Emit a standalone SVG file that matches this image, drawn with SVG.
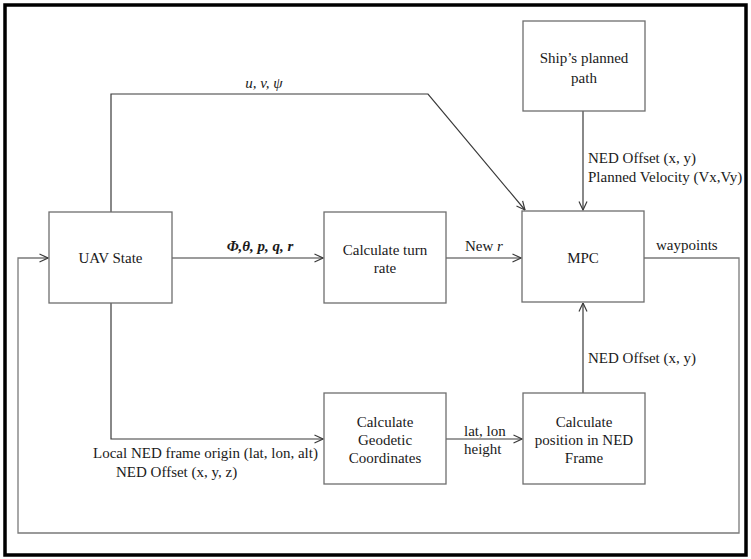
<svg xmlns="http://www.w3.org/2000/svg" width="751" height="559" viewBox="0 0 751 559">
<defs>
<style>
.box{fill:#fff;stroke:#6e6e6e;stroke-width:1.3}
.t{font-family:"Liberation Serif","Times New Roman",serif;font-size:15px;fill:#1a1a1a}
.c{text-anchor:middle}
.i{font-style:italic}
.b{font-weight:bold}
.ln{fill:none;stroke:#3a3a3a;stroke-width:1.2}
.fb{fill:none;stroke:#7a7a7a;stroke-width:1.3}
</style>
<marker id="ah" viewBox="0 0 10 10" refX="9.5" refY="5" markerWidth="10" markerHeight="10" markerUnits="userSpaceOnUse" orient="auto">
<path d="M1,1 L9.5,5 L1,9" fill="none" stroke="#3a3a3a" stroke-width="1.2"/>
</marker>
</defs>
<rect width="751" height="559" fill="#fff"/>
<rect x="5" y="5" width="741" height="550" fill="none" stroke="#000" stroke-width="3.5"/>

<g id="connectors">
<polyline class="ln" points="111,212 111,94 428,94 525,210" marker-end="url(#ah)"/>
<line class="ln" x1="172" y1="258" x2="323" y2="258" marker-end="url(#ah)"/>
<line class="ln" x1="446" y1="258" x2="521" y2="258" marker-end="url(#ah)"/>
<line class="ln" x1="583" y1="111" x2="583" y2="210" marker-end="url(#ah)"/>
<line class="ln" x1="583" y1="393" x2="583" y2="303" marker-end="url(#ah)"/>
<polyline class="ln" points="111,303 111,439 323,439" marker-end="url(#ah)"/>
<line class="ln" x1="446" y1="439" x2="522" y2="439" marker-end="url(#ah)"/>
<polyline class="fb" points="644,258 739,258 739,533 18,533 18,258 48,258" marker-end="url(#ah)"/>
<text class="t i" x="264" y="88" text-anchor="middle">u, v, ψ</text>
<text class="t i b" x="260" y="251" text-anchor="middle">Φ,θ, p, q, r</text>
<text class="t" x="465" y="251">New <tspan class="i">r</tspan></text>
<text class="t" x="656" y="250">waypoints</text>
<text class="t" x="588" y="163">NED Offset (x, y)</text>
<text class="t" x="588" y="182">Planned Velocity (Vx,Vy)</text>
<text class="t" x="588" y="363">NED Offset (x, y)</text>
<text class="t" x="464" y="436">lat, lon</text>
<text class="t" x="464" y="454">height</text>
<text class="t" x="93" y="458">Local NED frame origin (lat, lon, alt)</text>
<text class="t" x="116" y="477">NED Offset (x, y, z)</text>
</g>

<g id="uav-state">
<rect class="box" x="49" y="212" width="123" height="91"/>
<text class="t c" x="110.5" y="263">UAV State</text>
</g>
<g id="turn-rate">
<rect class="box" x="324" y="212" width="122" height="91"/>
<text class="t c" x="385" y="255">Calculate turn</text>
<text class="t c" x="385" y="273">rate</text>
</g>
<g id="mpc">
<rect class="box" x="522" y="211" width="122" height="91"/>
<text class="t c" x="583" y="263">MPC</text>
</g>
<g id="ship-path">
<rect class="box" x="523" y="21" width="122" height="90"/>
<text class="t c" x="584" y="63">Ship’s planned</text>
<text class="t c" x="584" y="83">path</text>
</g>
<g id="geodetic">
<rect class="box" x="324" y="393" width="122" height="91"/>
<text class="t c" x="385" y="427">Calculate</text>
<text class="t c" x="385" y="445">Geodetic</text>
<text class="t c" x="385" y="463">Coordinates</text>
</g>
<g id="ned-position">
<rect class="box" x="523" y="393" width="122" height="91"/>
<text class="t c" x="584" y="427">Calculate</text>
<text class="t c" x="584" y="445">position in NED</text>
<text class="t c" x="584" y="463">Frame</text>
</g>
</svg>
